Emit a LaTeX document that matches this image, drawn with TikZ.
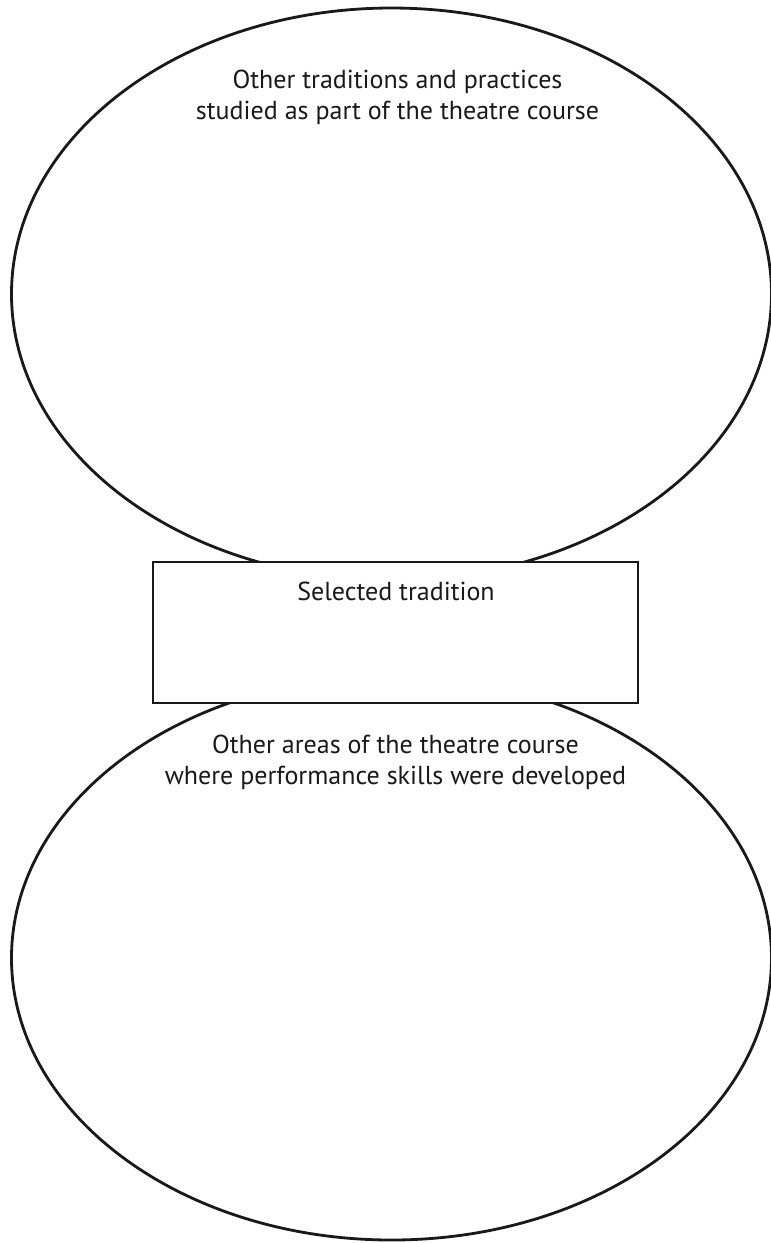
\documentclass[tikz,border=0pt]{standalone}
\usepackage{fontspec}
\setmainfont{PT Sans}
\usetikzlibrary{positioning}
\tikzset{
	ring/.style={line width=0.8pt, color=black!90},
	label/.style={align=center, font=\fontsize{7.4}{8.9}\selectfont, color=black!90, inner sep=0pt}
}

\begin{document}
\begin{tikzpicture}
	%%%%% START %%%%%
	\useasboundingbox (0, 0) rectangle (7.71, -12.43);
	
	\draw[ring] (3.915, -2.94) ellipse [x radius=3.80cm, y radius=2.86cm];
	\draw[ring] (3.915, -9.58) ellipse [x radius=3.80cm, y radius=2.82cm];
	
	\draw[ring, fill=white] (1.53, -5.62) rectangle (6.38, -7.03);
	
	\node[label] (others) at (3.975, -0.975) {Other traditions and practices\\studied as part of the theatre course};
	\node[label] (chosen) at (3.96, -5.91) {Selected tradition};
	\node[label] (areas) at (3.955, -7.62) {Other areas of the theatre course\\where performance skills were developed};
	
	%%%%% END %%%%%
\end{tikzpicture}
\end{document}
